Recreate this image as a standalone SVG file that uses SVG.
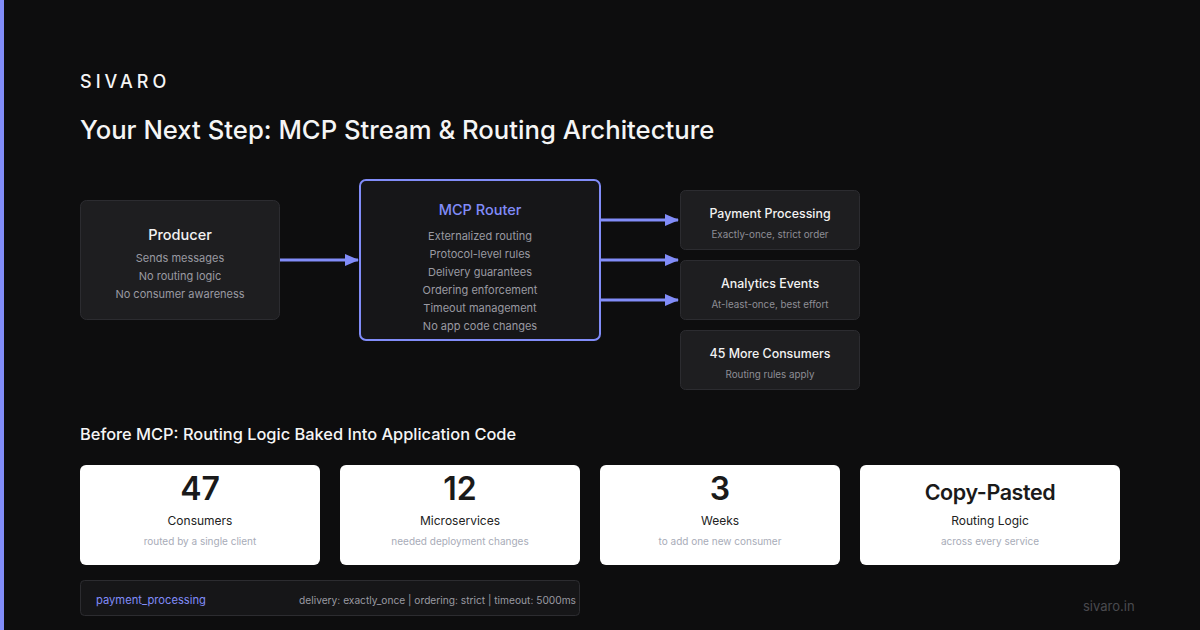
<svg xmlns="http://www.w3.org/2000/svg" width="1200" height="630" viewBox="0 0 1200 630">
<defs>
<marker id="ah" markerWidth="14" markerHeight="12" refX="13" refY="6" orient="auto" markerUnits="userSpaceOnUse">
<path d="M0,0 L14,6 L0,12 Z" fill="#818cf8"/>
</marker>
<style>
text{font-family:Inter,"Liberation Sans",sans-serif}
.box{fill:#1e1e20;stroke:#2c2c30;stroke-width:1}
.ttl{fill:#f2f2f2;font-size:14px;font-weight:500;text-anchor:middle}
.sub{fill:#9a9aa2;font-size:11px;text-anchor:middle}
.ctl{fill:#f2f2f2;font-size:12.4px;font-weight:500;text-anchor:middle}
.csub{fill:#8e8e96;font-size:9.8px;text-anchor:middle}
.card{fill:#ffffff}
.num{fill:#1a1a1a;font-size:32px;font-weight:600;text-anchor:middle}
.lbl{fill:#222;font-size:12px;text-anchor:middle}
.note{fill:#a8acb8;font-size:10px;text-anchor:middle}
.conn{stroke:#818cf8;stroke-width:3;fill:none}
</style>
</defs>
<rect width="1200" height="630" fill="#0d0d0e"/>
<rect x="0" y="0" width="4" height="630" fill="#818cf8"/>
<text x="80" y="88" fill="#f5f5f5" font-size="18" font-weight="500" letter-spacing="4">SIVARO</text>
<text x="80" y="139" fill="#f5f5f5" font-size="25.7" font-weight="500">Your Next Step: MCP Stream &amp; Routing Architecture</text>

<g id="connectors">
<line class="conn" x1="280" y1="260" x2="358" y2="260" marker-end="url(#ah)"/>
<line class="conn" x1="600" y1="220" x2="678" y2="220" marker-end="url(#ah)"/>
<line class="conn" x1="600" y1="260" x2="678" y2="260" marker-end="url(#ah)"/>
<line class="conn" x1="600" y1="300" x2="678" y2="300" marker-end="url(#ah)"/>
</g>

<g id="producer">
<rect class="box" x="80.5" y="200.5" width="199" height="119" rx="6"/>
<text class="ttl" x="180" y="240" style="font-size:14.5px">Producer</text>
<text class="sub" x="180" y="262">Sends messages</text>
<text class="sub" x="180" y="280">No routing logic</text>
<text class="sub" x="180" y="298">No consumer awareness</text>
</g>

<g id="router">
<rect x="360" y="180" width="240" height="160" rx="6" fill="#161618" stroke="#818cf8" stroke-width="2"/>
<text x="480" y="215" fill="#818cf8" font-size="14.5" font-weight="500" text-anchor="middle">MCP Router</text>
<text class="sub" x="480" y="240">Externalized routing</text>
<text class="sub" x="480" y="258">Protocol-level rules</text>
<text class="sub" x="480" y="276">Delivery guarantees</text>
<text class="sub" x="480" y="294">Ordering enforcement</text>
<text class="sub" x="480" y="312">Timeout management</text>
<text class="sub" x="480" y="330">No app code changes</text>
</g>

<g id="payment">
<rect class="box" x="680.5" y="190.5" width="179" height="59" rx="5"/>
<text class="ctl" x="770" y="218">Payment Processing</text>
<text class="csub" x="770" y="238">Exactly-once, strict order</text>
</g>
<g id="analytics">
<rect class="box" x="680.5" y="260.5" width="179" height="59" rx="5"/>
<text class="ctl" x="770" y="288">Analytics Events</text>
<text class="csub" x="770" y="308">At-least-once, best effort</text>
</g>
<g id="more">
<rect class="box" x="680.5" y="330.5" width="179" height="59" rx="5"/>
<text class="ctl" x="770" y="358">45 More Consumers</text>
<text class="csub" x="770" y="378">Routing rules apply</text>
</g>

<text x="80" y="440" fill="#f5f5f5" font-size="16.4" font-weight="500">Before MCP: Routing Logic Baked Into Application Code</text>

<g id="stat1">
<rect class="card" x="80" y="465" width="240" height="100" rx="6"/>
<text class="num" x="200" y="500">47</text>
<text class="lbl" x="200" y="525">Consumers</text>
<text class="note" x="200" y="545">routed by a single client</text>
</g>
<g id="stat2">
<rect class="card" x="340" y="465" width="240" height="100" rx="6"/>
<text class="num" x="460" y="500">12</text>
<text class="lbl" x="460" y="525">Microservices</text>
<text class="note" x="460" y="545">needed deployment changes</text>
</g>
<g id="stat3">
<rect class="card" x="600" y="465" width="240" height="100" rx="6"/>
<text class="num" x="720" y="500">3</text>
<text class="lbl" x="720" y="525">Weeks</text>
<text class="note" x="720" y="545">to add one new consumer</text>
</g>
<g id="stat4">
<rect class="card" x="860" y="465" width="260" height="100" rx="6"/>
<text class="num" x="990" y="500" style="font-size:21.5px;letter-spacing:-0.4px">Copy-Pasted</text>
<text class="lbl" x="990" y="525">Routing Logic</text>
<text class="note" x="990" y="545">across every service</text>
</g>

<g id="config">
<rect x="80.5" y="580.5" width="499" height="35" rx="4" fill="#161618" stroke="#2c2c30"/>
<text x="96" y="604" fill="#818cf8" font-size="11.2">payment_processing</text>
<text x="576" y="604" fill="#9a9aa2" font-size="10.2" text-anchor="end">delivery: exactly_once | ordering: strict | timeout: 5000ms</text>
</g>
<text x="1083" y="611" fill="#4a4a4e" font-size="13">sivaro.in</text>
</svg>
